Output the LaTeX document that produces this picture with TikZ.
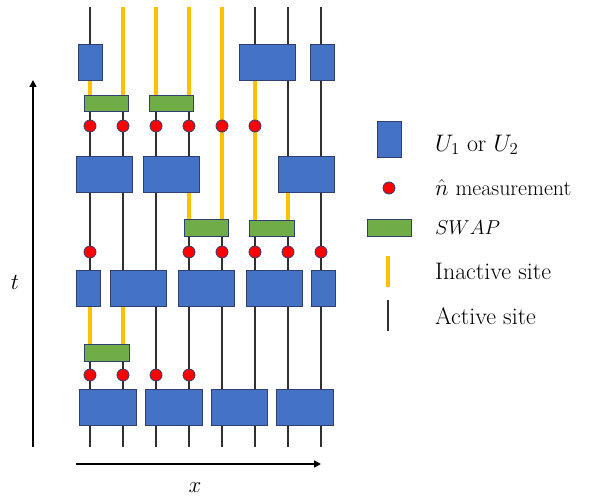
\RequirePackage{fix-cm}
\documentclass[tikz,border=0pt]{standalone}
\usetikzlibrary{arrows.meta}
\definecolor{ublue}{HTML}{4472C4}
\definecolor{ugreen}{HTML}{70AD47}
\definecolor{uyellow}{HTML}{FFC000}
\definecolor{uedge}{HTML}{2F3F6F}
\definecolor{uline}{HTML}{303030}
\tikzset{
  ubox/.style={draw=uedge, line width=0.9bp, fill=ublue, inner sep=0pt, outer sep=0pt},
  sbox/.style={draw=uedge, line width=0.9bp, fill=ugreen, inner sep=0pt, outer sep=0pt},
  mdot/.style={circle, draw=uedge, line width=0.8bp, fill=red, minimum size=12bp, inner sep=0pt},
  act/.style={draw=uline, line width=1.2bp},
  inact/.style={draw=uyellow, line width=3.6bp},
  axis/.style={draw=black, line width=1.6bp, -{Triangle[length=7bp,width=7bp]}},
  lab/.style={anchor=west, inner sep=0pt, font=\fontsize{23}{26}\selectfont},
}
% box from x1,x2,y1,y2 (pixels, y down)
\newcommand{\mybox}[6]{\node[#1, minimum width={(#4-#3)*1bp}, minimum height={(#6-#5)*1bp}] (#2) at ({(#3+#4)/2},{(#5+#6)/2}) {};}
\newcommand{\mydot}[3]{\node[mdot] (#1) at (#2,#3) {};}
\newcommand{\myseg}[4]{\draw[#1] (#2,#3) -- (#2,#4);}
\begin{document}
\begin{tikzpicture}[x=1bp,y=-1bp]
\useasboundingbox (0,0) rectangle (589,497);
% ---- site lines ----
\myseg{act}{90}{7}{80}\myseg{inact}{90}{80}{103}\myseg{act}{90}{103}{306}\myseg{inact}{90}{306}{352}\myseg{act}{90}{352}{447}
\myseg{inact}{123}{7}{103}\myseg{act}{123}{103}{306}\myseg{inact}{123}{306}{352}\myseg{act}{123}{352}{447}
\myseg{inact}{156}{7}{103}\myseg{act}{156}{103}{447}
\myseg{inact}{189}{7}{103}\myseg{act}{189}{103}{192}\myseg{inact}{189}{192}{227}\myseg{act}{189}{227}{447}
\myseg{inact}{222}{7}{227}\myseg{act}{222}{227}{447}
\myseg{act}{255}{7}{80}\myseg{inact}{255}{80}{228}\myseg{act}{255}{228}{447}
\myseg{act}{288}{7}{192}\myseg{inact}{288}{192}{228}\myseg{act}{288}{228}{447}
\myseg{act}{321}{7}{447}
% ---- top row of gates ----
\mybox{ubox}{ga1}{78}{102}{44}{80}
\mybox{ubox}{ga2}{239}{295}{44}{80}
\mybox{ubox}{ga3}{310}{334}{44}{80}
\mybox{sbox}{sa1}{84}{128}{95}{111}
\mybox{sbox}{sa2}{149}{193}{95}{111}
\mydot{da1}{90}{126}\mydot{da2}{123}{126}\mydot{da3}{156}{126}\mydot{da4}{189}{126}\mydot{da5}{222}{126}\mydot{da6}{255}{126}
% ---- second row ----
\mybox{ubox}{gb1}{76}{132}{156}{192}
\mybox{ubox}{gb2}{143}{199}{156}{192}
\mybox{ubox}{gb3}{278}{334}{156}{192}
\mybox{sbox}{sb1}{184}{228}{219}{236}
\mybox{sbox}{sb2}{249}{294}{220}{236}
\mydot{db1}{90}{252}\mydot{db4}{189}{252}\mydot{db5}{222}{252}\mydot{db6}{255}{252}\mydot{db7}{288}{252}\mydot{db8}{321}{252}
% ---- third row ----
\mybox{ubox}{gc1}{76}{100}{270}{306}
\mybox{ubox}{gc2}{110}{166}{270}{306}
\mybox{ubox}{gc3}{178}{234}{270}{306}
\mybox{ubox}{gc4}{246}{302}{270}{306}
\mybox{ubox}{gc5}{311}{335}{270}{306}
\mybox{sbox}{sc1}{84}{129}{344}{361}
\mydot{dc1}{90}{375}\mydot{dc2}{123}{375}\mydot{dc3}{156}{375}\mydot{dc4}{189}{375}
% ---- bottom row ----
\mybox{ubox}{gd1}{79}{136}{389}{425}
\mybox{ubox}{gd2}{145}{202}{389}{425}
\mybox{ubox}{gd3}{211}{267}{389}{425}
\mybox{ubox}{gd4}{276}{333}{389}{425}
% ---- axes ----
\coordinate (xs) at (76,464); \coordinate (xe) at (321,464);
\draw[axis] (xs) -- (xe);
\node[font=\fontsize{23}{26}\selectfont] (xl) at (195,488) {$x$};
\coordinate (ts) at (33,447); \coordinate (te) at (33,80);
\draw[axis] (ts) -- (te);
\node[font=\fontsize{23}{26}\selectfont] (tl) at (15,282) {$t$};
% ---- legend ----
\mybox{ubox}{lg1}{377}{401}{121}{157}
\node[lab, font=\fontsize{24}{27}\selectfont] (lt1) at (435,145) {$U_1$ or $U_2$};
\mydot{lg2}{389}{188}
\node[lab] (lt2) at (435,188) {$\hat{n}$ \fontsize{22}{25}\selectfont measurement};
\mybox{sbox}{lg3}{367}{411}{219}{236}
\node[lab, scale=0.88] (lt3) at (435,228) {$SWAP$};
\coordinate (ly1) at (388,256); \coordinate (ly2) at (388,287);
\draw[inact] (ly1) -- (ly2);
\node[lab, font=\fontsize{24}{27}\selectfont] (lt4) at (435,271) {Inactive site};
\coordinate (lb1) at (388,300); \coordinate (lb2) at (388,331);
\draw[act] (lb1) -- (lb2);
\node[lab, font=\fontsize{24}{27}\selectfont] (lt5) at (435,316) {Active site};
\end{tikzpicture}
\end{document}
